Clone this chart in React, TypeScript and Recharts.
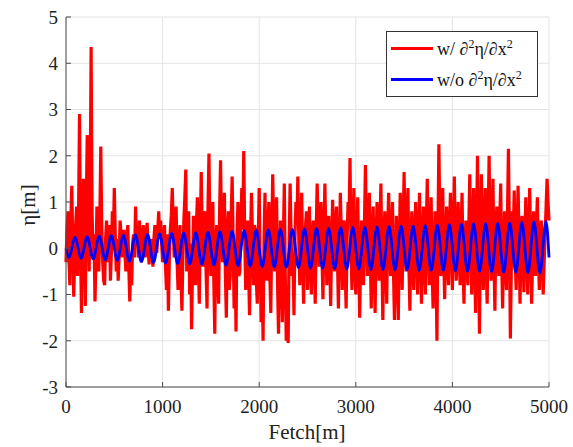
import { LineChart, Line, XAxis, YAxis, CartesianGrid } from "recharts";

const FETCH_STEP = 10;

// surface elevation with the second-derivative term, sampled every 10 m
const RED_ETA = [
  -0.3, 0.4, 0.8, -0.2, -0.8, 0.6, 1.35, 0.1, -1.05, -0.2, 0.5, 0.9, -0.6, 0.8, 2.9, 0.2, -1.4, 0.3, 1.5, 0.4,
  -1.25, 1.0, 2.45, 0.6, -0.5, 1.2, 4.35, 0.8, -0.2, 0.3, -1.15, -0.3, 0.9, 0.2, -0.5, 0.6, 2.2, 0.5, -0.3, -0.7,
  -0.8, 0.2, 0.6, -0.3, 0.2, 0.5, -0.7, -0.1, 0.8, 0.2, 1.3, 0.3, -0.5, 0.2, -0.7, -0.2, 0.6, 0.3, -0.2, 0.1,
  0.4, -0.1, -0.5, 0.2, 0.5, -0.4, -1.15, -0.3, -0.8, 0.1, 0.3, -0.2, 0.9, 0.1, 0.4, -0.2, 0.6, 0.2, -0.3, 0.2,
  0.5, 0.1, -0.2, 0.3, 0.55, 0.0, -0.35, 0.1, 0.2, -0.1, -0.4, 0.2, 0.5, 0.1, -0.1, 0.4, 0.8, 0.2, 0.6, 0.1,
  -0.3, 0.2, 0.5, -0.4, -0.9, 0.3, -1.35, -0.2, 0.4, 0.7, 1.3, 0.5, -0.2, 0.6, 0.9, -0.3, -0.9, 0.1, 0.5, -0.6,
  -1.35, -0.2, 0.6, 1.1, 1.7, -0.5, 0.2, 0.8, -1.0, 0.1, -1.75, -0.4, 0.7, 0.2, -0.8, 0.5, 1.1, -0.3, -1.2, 0.4,
  1.65, 0.3, -0.4, 0.6, 0.8, -0.5, -1.3, 0.9, 2.05, 0.2, -0.6, 0.4, 1.0, -0.7, -1.85, 0.1, 0.5, -0.5, -1.2, 0.8,
  1.9, 0.4, -0.3, 0.5, 1.2, -0.6, -1.5, 0.3, 0.8, -0.9, -0.6, 0.7, 1.55, 0.2, -1.3, -0.2, -1.8, 0.3, 1.0, -0.6,
  -0.5, 0.6, 1.3, 0.4, 2.1, 0.3, -0.9, -0.2, 0.6, -0.4, -1.45, 0.2, 1.2, 0.3, -0.8, 0.5, 0.4, -0.7, -1.2, 0.2,
  1.3, -0.3, -1.6, -0.4, -2.0, 0.2, 1.2, -0.2, -0.7, 0.5, 1.0, -0.6, -1.4, 0.3, 1.6, 0.4, -0.5, 0.6, 1.1, -0.8,
  -1.85, -0.3, 0.6, -0.5, -1.6, 0.2, 1.4, -0.6, -2.0, -0.8, -2.05, 0.1, 1.4, 0.3, -0.6, -0.2, -1.45, 0.2, 1.0, 0.5,
  1.55, 0.2, -0.8, 0.4, 1.2, -0.3, -1.2, 0.1, 0.5, 0.8, -0.9, 0.2, 0.9, -0.4, -1.0, 0.3, 0.6, -0.2, -1.2, 0.4,
  1.4, 0.5, -0.4, 0.6, 1.0, -0.2, -1.1, 0.3, 1.4, 0.2, -0.8, 0.4, 0.7, -0.3, -1.25, 0.1, 1.05, 0.3, -0.5, 0.4,
  0.9, -0.2, -1.3, 0.1, 1.2, 0.3, -0.9, 0.4, 0.6, -0.5, -1.3, 0.2, 1.0, 0.6, 1.95, 0.1, -0.9, 0.4, 1.3, -0.4,
  -1.0, 0.3, 1.1, -0.2, -1.5, -0.3, 0.6, 0.2, -0.8, 0.6, 1.8, 0.3, -0.6, 0.4, 1.2, -0.1, -1.3, 0.2, 0.9, -0.4,
  -1.4, 0.2, 1.0, 0.3, -0.7, 0.5, 1.4, -0.3, -1.55, 0.1, 0.8, -0.2, -1.2, 0.4, 1.2, 0.2, -0.6, 0.3, 1.0, -0.5,
  -1.55, -0.2, 0.7, -0.6, -1.55, 0.1, 1.2, 0.2, -0.9, 0.5, 1.65, 0.3, -0.5, 0.6, 1.3, -0.4, -1.35, 0.1, 0.8, -0.3,
  -0.9, 0.3, 1.0, -0.1, -1.0, 0.4, 1.2, -0.2, -1.2, 0.2, 0.9, -0.3, -1.0, 0.5, 1.5, 0.2, -0.8, 0.4, 1.1, -0.5,
  -1.3, -0.2, 0.8, -0.4, -2.0, 0.3, 2.25, 0.6, -0.6, 0.4, 1.3, -0.2, -1.1, 0.1, 0.9, -0.3, -0.8, 0.5, 1.2, 0.1,
  -0.9, 0.4, 1.55, 0.2, -0.7, 0.3, 1.0, -0.2, -0.8, 0.4, 1.2, -0.4, -1.2, 0.1, 0.6, -0.3, -0.8, 0.5, 1.6, 0.3,
  -1.0, 0.2, 1.3, -0.3, -1.4, 0.5, 2.0, 0.1, -1.85, 0.2, 1.6, 0.4, -0.9, 0.3, 1.3, -0.4, -1.2, 0.6, 2.0, 0.3,
  -0.7, 0.5, 1.5, -0.2, -1.35, 0.3, 0.9, -0.1, -0.6, 0.6, 1.4, -0.3, -1.3, 0.2, 0.8, -0.4, -0.9, 0.7, 2.15, 0.4,
  -1.95, -0.4, 0.8, 0.3, 1.25, -0.2, -0.9, 0.4, 1.35, 0.1, -1.2, -0.1, 0.7, 0.2, -0.95, 0.3, 1.1, -0.2, -1.0, 0.4,
  1.3, 0.2, -1.2, -0.3, 0.8, 0.2, -0.6, 0.5, 1.1, -0.2, -0.9, 0.3, 0.6, -0.4, -1.0, -0.3, 0.3, 0.9, 1.5, 1.0,
  0.6,
];

// without the second-derivative term: crests and troughs of the regular wave
const BLUE_FETCH = [
  0, 31, 94, 156, 219, 281, 344, 406, 469, 531, 594, 656, 719, 781, 844, 906,
  969, 1031, 1094, 1156, 1219, 1281, 1344, 1406, 1469, 1531, 1594, 1656, 1719,
  1781, 1844, 1906, 1969, 2031, 2094, 2156, 2219, 2281, 2344, 2406, 2469, 2531,
  2594, 2656, 2719, 2781, 2844, 2906, 2969, 3031, 3094, 3156, 3219, 3281, 3344,
  3406, 3469, 3531, 3594, 3656, 3719, 3781, 3844, 3906, 3969, 4031, 4094, 4156,
  4219, 4281, 4344, 4406, 4469, 4531, 4594, 4656, 4719, 4781, 4844, 4906, 4969,
  5000,
];
const BLUE_ETA = [
  0,
  -0.2, 0.24, -0.22, 0.25, -0.23, 0.26, -0.25, 0.27, -0.26, 0.28, -0.28, 0.29, -0.29, 0.3, -0.31, 0.31,
  -0.32, 0.32, -0.33, 0.33, -0.34, 0.34, -0.35, 0.35, -0.36, 0.36, -0.37, 0.37, -0.38, 0.38, -0.39, 0.39,
  -0.4, 0.4, -0.41, 0.41, -0.41, 0.41, -0.42, 0.42, -0.43, 0.43, -0.43, 0.43, -0.44, 0.44, -0.45, 0.45,
  -0.45, 0.45, -0.46, 0.46, -0.46, 0.47, -0.47, 0.48, -0.47, 0.48, -0.48, 0.49, -0.48, 0.5, -0.48, 0.51,
  -0.49, 0.52, -0.5, 0.53, -0.5, 0.53, -0.51, 0.54, -0.52, 0.55, -0.52, 0.56, -0.53, 0.57, -0.54, 0.58,
  -0.2,
];

const X_TICKS = [0, 1000, 2000, 3000, 4000, 5000];
const Y_TICKS = [-3, -2, -1, 0, 1, 2, 3, 4, 5];

const redData = RED_ETA.map((v, i) => ({ x: i * FETCH_STEP, eta: v }));
const blueData = BLUE_FETCH.map((x, i) => ({ x, eta: BLUE_ETA[i] }));

const FONT = '"Liberation Serif", "Times New Roman", serif';
const AXIS = "#4d4d4d";

function XTick({ x, y, payload }: any) {
  return (
    <text x={x} y={y} dy="0.71em" textAnchor="middle" fill="#222" fontSize={19} fontFamily={FONT}>
      {payload.value}
    </text>
  );
}

function YTick({ x, y, payload }: any) {
  return (
    <text x={x} y={y} dy="0.36em" textAnchor="end" fill="#222" fontSize={19} fontFamily={FONT}>
      {payload.value}
    </text>
  );
}

function LegendRow({ color, label }: { color: string; label: string }) {
  return (
    <div style={{ display: "flex", alignItems: "center", height: 31 }}>
      <div style={{ width: 42, height: 3, background: color, marginRight: 4 }} />
      <span>
        {label} &#8706;<sup style={{ fontSize: 12 }}>2</sup>&#951;/&#8706;x<sup style={{ fontSize: 12 }}>2</sup>
      </span>
    </div>
  );
}

export default function App() {
  return (
    <div
      style={{
        position: "absolute",
        left: 0,
        top: 0,
        width: 573,
        height: 447,
        background: "#fff",
        fontFamily: FONT,
      }}
    >
      <LineChart width={573} height={447} margin={{ top: 17, right: 24, left: 26, bottom: 30 }}>
        <CartesianGrid stroke="#e4e4e4" strokeWidth={1} />
        <XAxis
          dataKey="x"
          type="number"
          domain={[0, 5000]}
          ticks={X_TICKS}
          height={30}
          tickSize={-5}
          tickMargin={18}
          stroke={AXIS}
          tick={<XTick />}
          allowDuplicatedCategory={false}
        />
        <XAxis
          xAxisId="top"
          orientation="top"
          type="number"
          domain={[0, 5000]}
          ticks={X_TICKS}
          height={0}
          tickSize={-5}
          stroke={AXIS}
          tick={false}
        />
        <YAxis
          type="number"
          domain={[-3, 5]}
          ticks={Y_TICKS}
          width={40}
          tickSize={-5}
          tickMargin={13}
          stroke={AXIS}
          tick={<YTick />}
        />
        <YAxis
          yAxisId="right"
          orientation="right"
          type="number"
          domain={[-3, 5]}
          ticks={Y_TICKS}
          width={0}
          tickSize={-5}
          stroke={AXIS}
          tick={false}
        />
        <Line
          data={redData}
          dataKey="eta"
          type="linear"
          stroke="#ff0000"
          strokeWidth={3.2}
          dot={false}
          isAnimationActive={false}
        />
        <Line
          data={blueData}
          dataKey="eta"
          type="monotone"
          stroke="#0000ff"
          strokeWidth={2.8}
          dot={false}
          isAnimationActive={false}
        />
      </LineChart>
      <div
        style={{
          position: "absolute",
          left: 386,
          top: 31,
          width: 140,
          border: "1px solid #333",
          background: "#fff",
          padding: "1px 6px 1px 4px",
          fontSize: 18,
          color: "#111",
          whiteSpace: "nowrap",
        }}
      >
        <LegendRow color="#ff0000" label="w/" />
        <LegendRow color="#0000ff" label="w/o" />
      </div>
      <div
        style={{
          position: "absolute",
          left: 28,
          top: 205,
          transform: "translate(-50%, -50%) rotate(-90deg)",
          fontSize: 21,
          color: "#222",
          whiteSpace: "nowrap",
        }}
      >
        &#951;[m]
      </div>
      <div
        style={{
          position: "absolute",
          left: 307,
          top: 432,
          transform: "translate(-50%, -50%)",
          fontSize: 21,
          color: "#222",
          whiteSpace: "nowrap",
        }}
      >
        Fetch[m]
      </div>
    </div>
  );
}
